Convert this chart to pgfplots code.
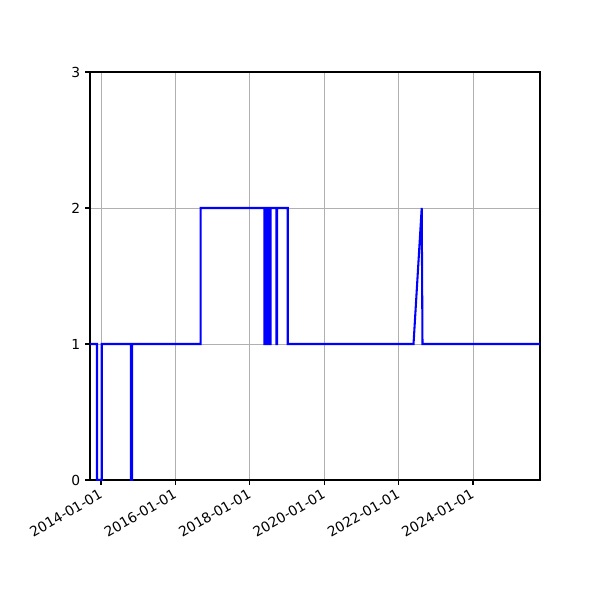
\documentclass[border=0pt]{standalone}
\usepackage{fontspec}
\setmainfont{DejaVu Sans}
\usepackage{pgfplots}
\pgfplotsset{compat=1.18}
\begin{document}
\begin{tikzpicture}
\begin{axis}[
  name=ax,
  scale only axis,
  width=324bp, height=293.76bp,
  xmin=2013.704, xmax=2025.801,
  ymin=0, ymax=3,
  xtick={2014,2016,2018,2020,2022,2024},
  xticklabels={2014-01-01,2016-01-01,2018-01-01,2020-01-01,2022-01-01,2024-01-01},
  ytick={0,1,2,3},
  xtick pos=bottom, ytick pos=left,
  xticklabel style={rotate=30, anchor=north east, inner sep=1pt, xshift=-2pt, font=\fontsize{10}{12}\selectfont},
  yticklabel style={font=\fontsize{10}{12}\selectfont},
  /pgf/number format/assume math mode=true,
  tick align=outside,
  major tick length=3.5pt,
  tick style={black, line width=0.8pt},
  axis line style={line width=0.8pt},
  grid=major,
  major grid style={color=black!31, line width=0.6pt},
]
\addplot[blue, line width=1.5pt, line join=miter] coordinates {
(2013.704,1) (2013.892,1) (2013.892,0) (2014.019,0) (2014.019,1)
(2014.801,1) (2014.801,0) (2014.833,0) (2014.833,1)
(2016.680,1) (2016.680,2)
(2018.395,2) (2018.395,1) (2018.422,1) (2018.422,2) (2018.449,2) (2018.449,1)
(2018.476,1) (2018.476,2) (2018.503,2) (2018.503,1) (2018.530,1) (2018.530,2)
(2018.545,2) (2018.545,1) (2018.556,1) (2018.556,2)
(2018.715,2) (2018.715,1) (2018.735,1) (2018.735,2)
(2019.019,2) (2019.019,1)
(2022.401,1) (2022.621,2) (2022.642,1)
(2025.801,1)
};
\end{axis}
\path (ax.south west) ++(-64.8bp,-86.4bp) coordinate (bl);
\path (ax.north east) ++(43.2bp,51.84bp) coordinate (tr);
\path (bl) rectangle (tr);
\end{tikzpicture}
\end{document}
